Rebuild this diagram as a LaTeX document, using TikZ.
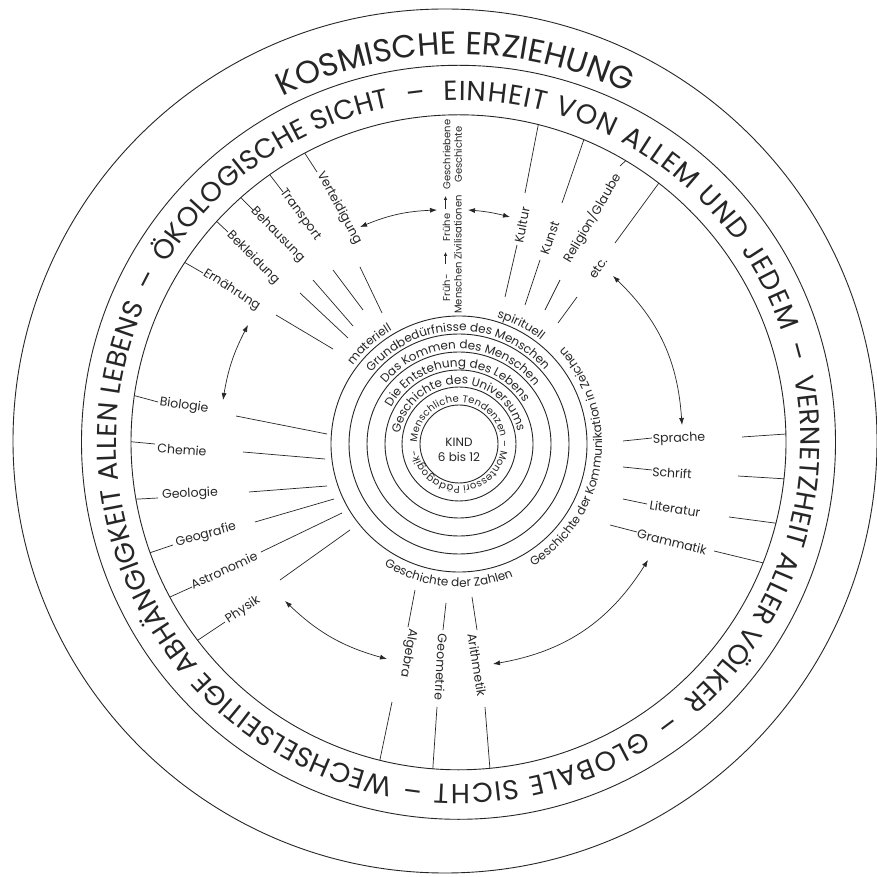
\documentclass[tikz,border=0pt]{standalone}
\usepackage{fontspec}
\setmainfont{Poppins}
\usetikzlibrary{decorations.text,arrows.meta}
\definecolor{ink}{gray}{0.15}
\newcommand\cwtext[6]{%
  \path[decorate,decoration={text along path,text align=center,
    text={|\color{ink}\fontsize{#5}{#5}\selectfont|#6}}]
    (#1) ++({#3+#4}:#2) arc[start angle={#3+#4}, end angle={#3-#4}, radius=#2];}
\newcommand\ccwtext[6]{%
  \path[decorate,decoration={text along path,text align=center,
    text={|\color{ink}\fontsize{#5}{#5}\selectfont|#6}}]
    (#1) ++({#3-#4}:#2) arc[start angle={#3-#4}, end angle={#3+#4}, radius=#2];}
% fitted clockwise text: center, radius, start angle, end angle, size, text
\newcommand\fittext[6]{%
  \path[decorate,decoration={text along path,text align={fit to path},
    text={|\color{ink}\fontsize{#5}{#5}\selectfont|#6}}]
    (#1) ++(#3:#2) arc[start angle=#3, end angle=#4, radius=#2];}
\begin{document}
\begin{tikzpicture}[x=1pt,y=1pt,
  ln/.style={line width=0.7pt,draw=ink},
  ringl/.style={line width=0.9pt,draw=ink},
  lab/.style={font=\fontsize{12.5}{14}\selectfont,text=ink,inner sep=0pt},
  vlab/.style={font=\fontsize{10}{11.5}\selectfont,text=ink,align=center,inner sep=0pt,rotate=90},
  dbl/.style={line width=0.7pt,draw=ink,{Latex[length=7pt,width=5pt]}-{Latex[length=7pt,width=5pt]}},
  sarr/.style={line width=0.7pt,draw=ink,-{Latex[length=4pt,width=3.5pt]}}]
\useasboundingbox (0,0) rectangle (877,876);
\fill[white] (0,0) rectangle (877,876);
\coordinate (O1) at (445,876-441);
\coordinate (O2) at (458.5,876-442.3);
\coordinate (I) at (459,876-444);
% rings
\draw[ringl] (O1) circle[radius=432];
\draw[ringl] (O2) circle[radius=377];
\draw[ringl] (O2) circle[radius=327.5];
\foreach \r in {128,110,92,74,57,39} \draw[ringl] (I) circle[radius=\r];
% outer texts
\cwtext{O2}{388}{90.5}{60}{32}{KOSMISCHE ERZIEHUNG}
\fittext{O2}{342}{259}{156.5}{27.5}{WECHSELSEITIGE ABHÄNGIGKEIT ALLEN LEBENS}
\cwtext{O2}{342}{152.5}{5}{27.5}{–}
\fittext{O2}{342}{148.5}{101.5}{27.5}{ÖKOLOGISCHE SICHT}
\cwtext{O2}{342}{97}{5}{27.5}{–}
\fittext{O2}{342}{92.5}{19}{27.5}{EINHEIT VON ALLEM UND JEDEM}
\cwtext{O2}{342}{15}{5}{27.5}{–}
\fittext{O2}{342}{11}{-49}{27.5}{VERNETZHEIT ALLER VÖLKER}
\cwtext{O2}{342}{-53.4}{5}{27.5}{–}
\fittext{O2}{342}{-57.5}{-94}{27.5}{GLOBALE SICHT}
\cwtext{O2}{342}{-97.5}{5}{27.5}{–}
% inner ring texts
\cwtext{I}{113}{90.7}{70}{12}{Grundbedürfnisse des Menschen}
\cwtext{I}{95}{89}{80}{12}{Das Kommen des Menschen}
\cwtext{I}{77}{92}{85}{12}{Die Entstehung des Lebens}
\cwtext{I}{60}{91}{89}{12}{Geschichte des Universums}
\path[decorate,decoration={text along path,text align={fit to path},
  text={|\color{ink}\fontsize{10}{10}\selectfont|Menschliche Tendenzen – Montessori Pädagogik-}}]
  (I) ++(178:42) arc[start angle=178, end angle=-172, radius=42];
\node[font=\fontsize{12}{15}\selectfont,text=ink,align=center] (kind) at (459,876-450) {KIND\\6 bis 12};
\cwtext{I}{132}{132}{30}{12}{materiell}
\cwtext{I}{132}{62.5}{30}{12}{spirituell}
\ccwtext{I}{143}{-94.6}{50}{12}{Geschichte der Zahlen}
\ccwtext{I}{143}{-8}{70}{12}{Geschichte der Kommunikation in Zeichen}
% upper-left spokes
\draw[ln] (O2) ++(146.7:327.5) -- (203,876-273);
\node[lab,rotate=-32.7] (ern) at (231.5,876-290) {Ernährung};
\draw[ln] (276,876-315) -- (333,876-349);
\draw[ln] (O2) ++(137.6:327.5) -- (228,876-232);
\node[lab,rotate=-45] (bek) at (253,876-258) {Bekleidung};
\draw[ln] (300,876-293) -- (348,876-338);
\draw[ln] (O2) ++(131.65:327.5) -- (253,876-210);
\node[lab,rotate=-45.6] (beh) at (277.5,876-235) {Behausung};
\draw[ln] (313,876-280) -- (353,876-326);
\draw[ln] (O2) ++(125.2:327.5) -- (283,876-192);
\node[lab,rotate=-53.5] (tra) at (300,876-215) {Transport};
\draw[ln] (333,876-270) -- (363,876-310);
\draw[ln] (O2) ++(118:327.5) -- (317,876-172);
\node[lab,rotate=-61.5] (ver) at (339,876-208) {Verteidigung};
\draw[ln] (360,876-267) -- (382,876-313);
% top centre
\node[vlab] (fm) at (452.3,876-288) {Früh-\\Menschen};
\node[vlab] (fz) at (452.3,876-227.5) {Frühe\\Zivilisationen};
\node[vlab] (gg) at (452.3,876-154.5) {Geschriebene\\Geschichte};
\draw[sarr] (445.5,876-264) -- (445.5,876-252);
\draw[sarr] (445.5,876-209) -- (445.5,876-196);
% upper-right spokes
\draw[ln] (O2) ++(75.9:327.5) -- (525,876-193);
\node[lab,rotate=79] (kul) at (522,876-225) {Kultur};
\draw[ln] (517,876-245) -- (505,876-297);
\draw[ln] (O2) ++(67.5:327.5) -- (562,876-203);
\node[lab,rotate=71] (kun) at (550,876-238) {Kunst};
\draw[ln] (540,876-260) -- (525,876-305);
\draw[ln] (O2) ++(59.3:327.5) -- (620,876-166);
\node[lab,rotate=59.4] (rel) at (592,876-218) {Religion/Glaube};
\draw[ln] (560,876-280) -- (545,876-310);
\draw[ln] (O2) ++(52.3:327.5) -- (615,876-243);
\node[lab,rotate=55] (etc) at (598,876-268) {etc.};
\draw[ln] (577,876-297) -- (558,876-323);
% right spokes
\draw[ln] (623,876-441) -- (652,876-438);
\node[lab,rotate=3] (spr) at (679,876-439) {Sprache};
\draw[ln] (O2) ++(1.45:327.5) -- (742,876-437);
\draw[ln] (623,876-467) -- (652,876-470);
\node[lab,rotate=-4] (sch) at (672,876-473) {Schrift};
\draw[ln] (O2) ++(-6.4:327.5) -- (738,876-476);
\draw[ln] (623,876-499) -- (647,876-504);
\node[lab,rotate=-9] (lit) at (675,876-509) {Literatur};
\draw[ln] (O2) ++(-14.3:327.5) -- (729,876-517);
\draw[ln] (610,876-525) -- (637,876-532);
\node[lab,rotate=-14] (gra) at (672,876-542) {Grammatik};
\draw[ln] (O2) ++(-21.6:327.5) -- (714,876-551);
% bottom spokes
\draw[ln] (415,876-590) -- (408,876-627);
\node[lab,rotate=-100] (alg) at (408,876-653) {Algebra};
\draw[ln] (O2) ++(-103.9:327.5) -- (392,876-702);
\draw[ln] (446,876-603) -- (443,876-630);
\node[lab,rotate=-93] (geo) at (441,876-667) {Geometrie};
\draw[ln] (O2) ++(-94.5:327.5) -- (437,876-707);
\draw[ln] (472,876-597) -- (477,876-630);
\node[lab,rotate=-81] (ari) at (477,876-665) {Arithmetik};
\draw[ln] (O2) ++(-84.5:327.5) -- (485,876-707);
% left spokes
\draw[ln] (O2) ++(171.8:327.5) -- (158,876-402);
\node[lab,rotate=-8] (bio) at (184,876-406) {Biologie};
\draw[ln] (236,876-416) -- (327,876-434);
\draw[ln] (O2) ++(179.9:327.5) -- (155,876-444);
\node[lab,rotate=-4] (che) at (182,876-450) {Chemie};
\draw[ln] (243,876-452) -- (325,876-459);
\draw[ln] (O2) ++(190:327.5) -- (158,876-498);
\node[lab,rotate=3] (gel) at (190,876-494) {Geologie};
\draw[ln] (249,876-492) -- (327,876-486);
\draw[ln] (O2) ++(199.7:327.5) -- (173,876-545);
\node[lab,rotate=15] (gef) at (206,876-535) {Geografie};
\draw[ln] (255,876-522) -- (334,876-499);
\draw[ln] (O2) ++(208.2:327.5) -- (192,876-587);
\node[lab,rotate=25] (ast) at (224,876-570) {Astronomie};
\draw[ln] (261,876-552) -- (342,876-513);
\draw[ln] (O2) ++(217.2:327.5) -- (225,876-622);
\node[lab,rotate=33] (phy) at (243,876-610) {Physik};
\draw[ln] (280,876-580) -- (350,876-530);
% double arrows
\draw[dbl] (360,876-227) to[bend left=10] (437,876-210);
\draw[dbl] (468,876-210) to[bend left=5] (510,876-217);
\draw[dbl] (613,876-276) to[bend left=21] (682,876-425);
\draw[dbl] (648,876-560) to[bend left=24] (493,876-664);
\draw[dbl] (285,876-601) to[bend right=14] (387,876-659);
\draw[dbl] (248,876-325) to[bend right=9] (223,876-400);
\end{tikzpicture}
\end{document}
